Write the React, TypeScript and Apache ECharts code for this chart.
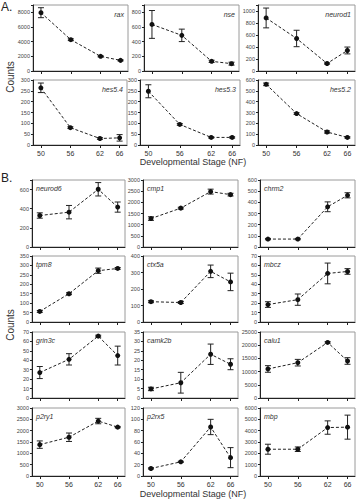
import React, { useEffect, useRef } from "react";
import * as echarts from "echarts";

const stages = [50, 56, 62, 66];

// ---- Panel A ----
const raxMean = [7950, 4270, 2000, 1450];
const raxErr = [680, 120, 80, 80];
const nseMean = [635, 486, 132, 100];
const nseErr = [190, 85, 15, 20];
const neurod1Mean = [884, 542, 125, 342];
const neurod1Err = [165, 137, 10, 57];
const hes54Mean = [264, 80, 30, 33];
const hes54Err = [22, 4, 4, 15];
const hes53Mean = [248, 95, 35, 35];
const hes53Err = [30, 4, 3, 3];
const hes52Mean = [560, 290, 120, 70];
const hes52Err = [12, 8, 10, 6];

// ---- Panel B ----
const neurod6Mean = [329, 364, 603, 417];
const neurod6Err = [28, 70, 70, 53];
const cmp1Mean = [1273, 1740, 2480, 2345];
const cmp1Err = [80, 40, 110, 60];
const chrm2Mean = [71, 71, 360, 463];
const chrm2Err = [6, 6, 44, 23];
const tpm8Mean = [56, 150, 272, 284];
const tpm8Err = [5, 5, 14, 5];
const ctx5aMean = [123, 118, 307, 243];
const ctx5aErr = [6, 6, 38, 53];
const mbczMean = [18.5, 23.7, 51.5, 53.6];
const mbczErr = [3, 6, 11, 3];
const grin3cMean = [27, 41, 65.6, 45];
const grin3cErr = [6.4, 6, 1, 10];
const camk2bMean = [4.8, 8.1, 23.2, 17.9];
const camk2bErr = [0.9, 5.5, 5.4, 2.9];
const caluMean = [11000, 13380, 21050, 14020];
const caluErr = [1250, 1250, 300, 1250];
const p2ry1Mean = [1384, 1710, 2424, 2156];
const p2ry1Err = [163, 186, 120, 30];
const p2rx5Mean = [13.3, 25, 86.5, 32.4];
const p2rx5Err = [1, 1, 13.5, 17.7];
const mbpMean = [2363, 2363, 4274, 4310];
const mbpErr = [440, 200, 590, 1060];

const names = [
  "rax", "nse", "neurod1", "hes5.4", "hes5.3", "hes5.2",
  "neurod6", "cmp1", "chrm2", "tpm8", "ctx5a", "mbcz",
  "grin3c", "camk2b", "calu1", "p2ry1", "p2rx5", "mbp",
];
const means = [
  raxMean, nseMean, neurod1Mean, hes54Mean, hes53Mean, hes52Mean,
  neurod6Mean, cmp1Mean, chrm2Mean, tpm8Mean, ctx5aMean, mbczMean,
  grin3cMean, camk2bMean, caluMean, p2ry1Mean, p2rx5Mean, mbpMean,
];
const errs = [
  raxErr, nseErr, neurod1Err, hes54Err, hes53Err, hes52Err,
  neurod6Err, cmp1Err, chrm2Err, tpm8Err, ctx5aErr, mbczErr,
  grin3cErr, camk2bErr, caluErr, p2ry1Err, p2rx5Err, mbpErr,
];
// y axis: [top tick, interval, axis max]
const yTopTick = [8000, 800, 1000, 300, 300, 600, 600, 3000, 600, 350, 400, 70, 70, 35, 25000, 3000, 120, 6000];
const yInterval = [2000, 200, 200, 50, 50, 100, 200, 500, 100, 50, 100, 10, 10, 5, 5000, 500, 20, 1000];
const yMax = [9000, 900, 1100, 300, 300, 600, 700, 3000, 600, 350, 400, 70, 70, 35, 25000, 3000, 120, 6000];

// ---- layout (pixels) ----
const colsA = [[33, 128], [144, 239], [258, 355]];
const colsA2 = [[33, 127], [140, 240], [258, 355]];
const colsB = [[32, 125], [143, 238], [260, 355]];
const rowsA = [[5, 71], [80, 145]];
const rowsB = [[180, 247], [256, 322], [332, 398], [408, 476]];

export default function App() {
  const ref = useRef<HTMLDivElement>(null);
  useEffect(() => {
    const chart = echarts.init(ref.current!, null, { renderer: "svg" });
    const grids: any[] = [];
    const xAxes: any[] = [];
    const yAxes: any[] = [];
    const series: any[] = [];
    const graphics: any[] = [];
    const font = "Arial, 'Liberation Sans', sans-serif";

    for (let i = 0; i < 18; i++) {
      let l: number, r: number, t: number, b: number, isA = i < 6, bottomRow: boolean;
      if (isA) {
        const row = Math.floor(i / 3), col = i % 3;
        [l, r] = row === 0 ? colsA[col] : colsA2[col];
        [t, b] = rowsA[row];
        bottomRow = row === 1;
      } else {
        const k = i - 6;
        const row = Math.floor(k / 3), col = k % 3;
        [l, r] = colsB[col];
        [t, b] = rowsB[row];
        bottomRow = row === 3;
      }
      grids.push({
        left: l, top: t, width: r - l, height: b - t,
        show: true, borderColor: "#9a9a9a", borderWidth: 1,
      });
      xAxes.push({
        type: "value", gridIndex: i, min: 48.4, max: 67.5,
        axisLine: { show: true, onZero: false, lineStyle: { color: "#222", width: 1 } },
        axisTick: { show: true, customValues: stages, length: 3, lineStyle: { color: "#222" } },
        axisLabel: {
          show: bottomRow, customValues: stages, fontSize: 7, color: "#333",
          margin: 5, fontFamily: font,
        },
        splitLine: { show: false },
      });
      const top = yTopTick[i], iv = yInterval[i];
      yAxes.push({
        type: "value", gridIndex: i, min: 0, max: yMax[i], interval: iv,
        axisLine: { show: true, onZero: false, lineStyle: { color: "#222", width: 1 } },
        axisTick: { show: true, length: 2, lineStyle: { color: "#222" } },
        axisLabel: {
          fontSize: 5.5, color: "#444", margin: 3, fontFamily: font,
          formatter: (v: number) => (v % iv === 0 && v <= top ? String(v) : ""),
        },
        splitLine: { show: false },
      });
      const m = means[i], e = errs[i];
      series.push({
        type: "custom", xAxisIndex: i, yAxisIndex: i, z: 3,
        data: stages.map((s, j) => [s, m[j] - e[j], m[j] + e[j]]),
        encode: { x: 0, y: [1, 2] },
        renderItem: (params: any, api: any) => {
          const lo = api.coord([api.value(0), api.value(1)]);
          const hi = api.coord([api.value(0), api.value(2)]);
          const w = 3;
          const st = { stroke: "#222", lineWidth: 1 };
          return {
            type: "group",
            children: [
              { type: "line", shape: { x1: lo[0], y1: lo[1], x2: hi[0], y2: hi[1] }, style: st },
              { type: "line", shape: { x1: lo[0] - w, y1: lo[1], x2: lo[0] + w, y2: lo[1] }, style: st },
              { type: "line", shape: { x1: hi[0] - w, y1: hi[1], x2: hi[0] + w, y2: hi[1] }, style: st },
            ],
          };
        },
      });
      series.push({
        type: "line", xAxisIndex: i, yAxisIndex: i, z: 4,
        data: stages.map((s, j) => [s, m[j]]),
        symbol: "circle", symbolSize: 5,
        itemStyle: { color: "#111" },
        lineStyle: { color: "#222", width: 1, type: [3, 2] },
      });
      // gene label
      if (isA) {
        graphics.push({
          type: "text", x: r - 4, y: t + 6,
          style: { text: names[i], font: `italic 7px ${font}`, fill: "#333", align: "right" },
        });
      } else {
        graphics.push({
          type: "text", x: l + 4, y: t + 5,
          style: { text: names[i], font: `italic 7px ${font}`, fill: "#333", align: "left" },
        });
      }
    }

    graphics.push(
      { type: "text", x: 1, y: 1, style: { text: "A.", font: `12px ${font}`, fill: "#222" } },
      { type: "text", x: 1, y: 172, style: { text: "B.", font: `12px ${font}`, fill: "#222" } },
      {
        type: "text", x: 10, y: 77, rotation: Math.PI / 2,
        style: { text: "Counts", font: `10px ${font}`, fill: "#333", align: "center", verticalAlign: "middle" },
      },
      {
        type: "text", x: 10, y: 325, rotation: Math.PI / 2,
        style: { text: "Counts", font: `10px ${font}`, fill: "#333", align: "center", verticalAlign: "middle" },
      },
      {
        type: "text", x: 193, y: 162,
        style: { text: "Developmental Stage (NF)", font: `9px ${font}`, fill: "#333", align: "center", verticalAlign: "middle" },
      },
      {
        type: "text", x: 193, y: 494,
        style: { text: "Developmental Stage (NF)", font: `9px ${font}`, fill: "#333", align: "center", verticalAlign: "middle" },
      },
    );

    chart.setOption({
      animation: false,
      backgroundColor: "#fff",
      grid: grids,
      xAxis: xAxes,
      yAxis: yAxes,
      series,
      graphic: graphics,
    });
    return () => chart.dispose();
  }, []);
  return <div ref={ref} style={{ position: "absolute", left: 0, top: 0, width: 357, height: 500 }} />;
}
